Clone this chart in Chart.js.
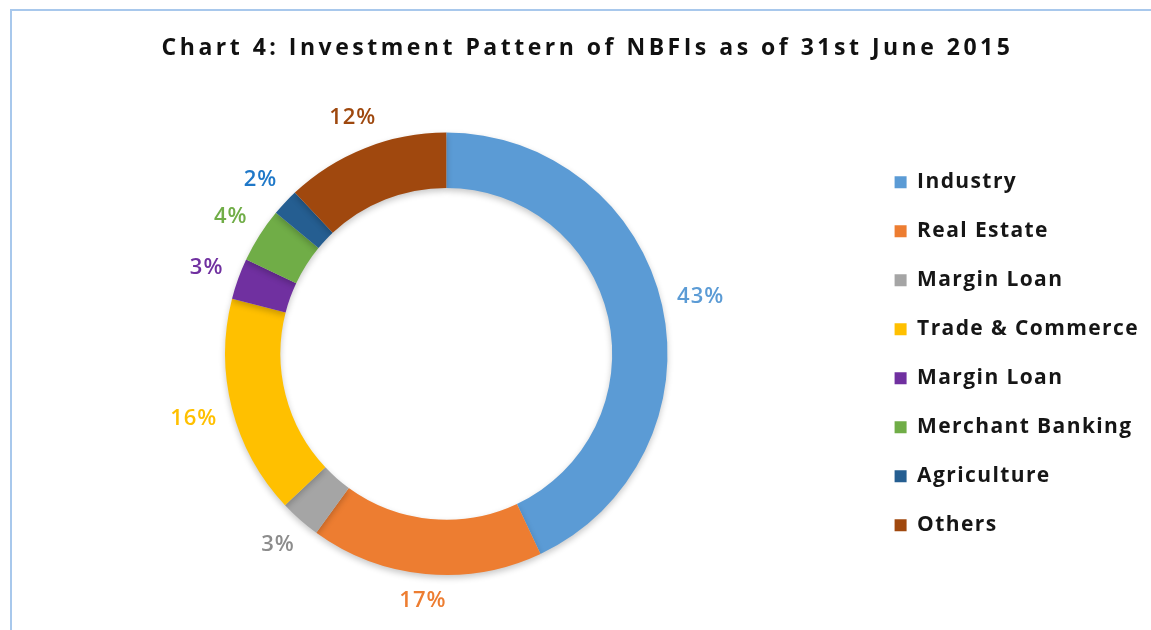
<!DOCTYPE html>
<html>
<head>
<meta charset="utf-8">
<script src="https://cdn.jsdelivr.net/npm/chart.js@4/dist/chart.umd.min.js"></script>
<style>
  html, body { margin: 0; padding: 0; background: #ffffff; }
  #wrap { position: relative; width: 1151px; height: 630px; overflow: hidden; }
  #frame { position: absolute; left: 10px; top: 9px; width: 1200px; height: 700px;
           border-top: 2px solid #a8c8ec; border-left: 2px solid #a8c8ec; box-sizing: border-box; }
  canvas { position: absolute; left: 0; top: 0; }
</style>
</head>
<body>
<div id="wrap">
  <div id="frame"></div>
  <canvas id="c" width="1151" height="630"></canvas>
</div>
<script>
const titleText = 'Chart 4: Investment Pattern of NBFIs as of 31st June 2015';
const categories = ['Industry', 'Real Estate', 'Margin Loan', 'Trade & Commerce', 'Margin Loan', 'Merchant Banking', 'Agriculture', 'Others'];
const values = [43, 17, 3, 16, 3, 4, 2, 12];
const sliceColors = ['#5b9bd5', '#ed7d31', '#a5a5a5', '#ffc000', '#7030a0', '#70ad47', '#255e91', '#a0480e'];
const labelColors = ['#5b9bd5', '#ed7d31', '#8c8c8c', '#ffc000', '#7030a0', '#70ad47', '#1f78c8', '#9e480e'];

const FONT = "'Open Sans', 'DejaVu Sans', sans-serif";

// letter spacing: legend text (measured during layout) and title (wrapped draw)
const spacing = {
  id: 'spacing',
  beforeUpdate(chart) { chart.ctx.letterSpacing = '1.4px'; },
  beforeDraw(chart) {
    chart.ctx.letterSpacing = '1.4px';
    const tb = chart.titleBlock;
    if (tb && !tb._wrapped) {
      const orig = tb.draw;
      tb.draw = function () {
        const ctx = this.ctx;
        ctx.save();
        ctx.letterSpacing = '3.5px';
        orig.apply(this, arguments);
        ctx.restore();
      };
      tb._wrapped = true;
    }
  }
};

const shadow = {
  id: 'shadow',
  beforeDatasetsDraw(chart) {
    const ctx = chart.ctx;
    ctx.save();
    ctx.shadowColor = 'rgba(0,0,0,0.22)';
    ctx.shadowBlur = 6;
    ctx.shadowOffsetY = 3;
  },
  afterDatasetsDraw(chart) { chart.ctx.restore(); }
};

const pctLabels = {
  id: 'pctLabels',
  afterDatasetsDraw(chart) {
    const ctx = chart.ctx;
    const meta = chart.getDatasetMeta(0);
    const total = values.reduce((a, b) => a + b, 0);
    ctx.save();
    ctx.letterSpacing = '1px';
    ctx.font = "600 22px " + FONT;
    ctx.textAlign = 'center';
    ctx.textBaseline = 'middle';
    meta.data.forEach((arc, i) => {
      const txt = Math.round(values[i] / total * 100) + '%';
      const w = ctx.measureText(txt).width;
      const h = 22;
      const mid = (arc.startAngle + arc.endAngle) / 2;
      const c = Math.cos(mid), s = Math.sin(mid);
      const r = arc.outerRadius + 14 + Math.abs(c) * w / 2 + Math.abs(s) * h / 2;
      ctx.fillStyle = labelColors[i];
      ctx.fillText(txt, arc.x + c * r, arc.y + s * r);
    });
    ctx.restore();
  }
};

new Chart(document.getElementById('c'), {
  type: 'doughnut',
  data: {
    labels: categories,
    datasets: [{
      data: values,
      backgroundColor: sliceColors,
      borderWidth: 0,
      hoverOffset: 0
    }]
  },
  options: {
    responsive: false,
    devicePixelRatio: 1,
    animation: false,
    cutout: '75%',
    layout: { padding: { top: 30, left: 26, bottom: 55, right: 2 } },
    plugins: {
      title: {
        display: true,
        text: titleText,
        color: '#111111',
        font: { family: FONT, size: 23, weight: 'bold', lineHeight: 1.2 },
        padding: { top: 5, bottom: 70 }
      },
      legend: {
        position: 'right',
        fullSize: false,
        labels: {
          color: '#161616',
          font: { family: FONT, size: 21, weight: 'bold' },
          boxWidth: 12,
          boxHeight: 12,
          padding: 28
        }
      },
      tooltip: { enabled: false }
    }
  },
  plugins: [spacing, shadow, pctLabels]
});
</script>
</body>
</html>
